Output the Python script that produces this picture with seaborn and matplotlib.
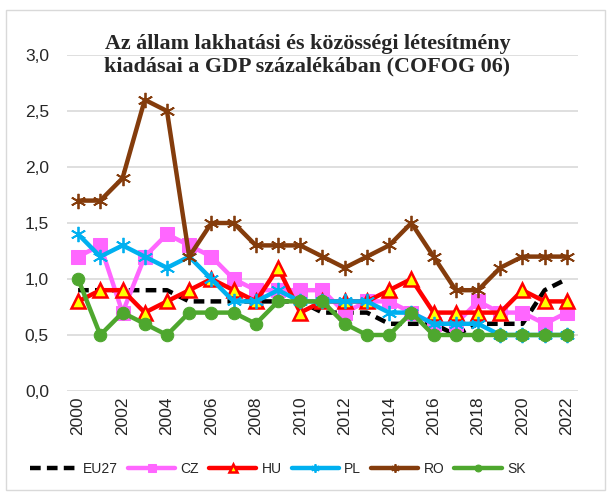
import pandas as pd
import matplotlib
matplotlib.use('Agg')
import matplotlib.pyplot as plt
import matplotlib.patches as mpatches
from matplotlib.ticker import FuncFormatter
import seaborn as sns

# 数据：COFOG 06，占 GDP 百分比
years = list(range(2000, 2023))
eu27 = [0.9, 0.9, 0.9, 0.9, 0.9, 0.8, 0.8, 0.8, 0.8, 0.8, 0.8, 0.7, 0.7,
        0.7, 0.6, 0.6, 0.6, 0.5, 0.6, 0.6, 0.6, 0.9, 1.0]
cz = [1.2, 1.3, 0.7, 1.2, 1.4, 1.3, 1.2, 1.0, 0.9, 0.9, 0.9, 0.9, 0.7,
      0.8, 0.8, 0.7, 0.6, 0.6, 0.8, 0.7, 0.7, 0.6, 0.7]
hu = [0.8, 0.9, 0.9, 0.7, 0.8, 0.9, 1.0, 0.9, 0.8, 1.1, 0.7, 0.8, 0.8,
      0.8, 0.9, 1.0, 0.7, 0.7, 0.7, 0.7, 0.9, 0.8, 0.8]
pl = [1.4, 1.2, 1.3, 1.2, 1.1, 1.2, 1.0, 0.8, 0.8, 0.9, 0.8, 0.8, 0.8,
      0.8, 0.7, 0.7, 0.6, 0.6, 0.6, 0.5, 0.5, 0.5, 0.5]
ro = [1.7, 1.7, 1.9, 2.6, 2.5, 1.2, 1.5, 1.5, 1.3, 1.3, 1.3, 1.2, 1.1,
      1.2, 1.3, 1.5, 1.2, 0.9, 0.9, 1.1, 1.2, 1.2, 1.2]
sk = [1.0, 0.5, 0.7, 0.6, 0.5, 0.7, 0.7, 0.7, 0.6, 0.8, 0.8, 0.8, 0.6,
      0.5, 0.5, 0.7, 0.5, 0.5, 0.5, 0.5, 0.5, 0.5, 0.5]

sns.set_style('white')
plt.rcParams['font.family'] = ['Liberation Sans', 'DejaVu Sans']

fig = plt.figure(figsize=(6.11, 4.93), dpi=100)
ax = fig.add_axes([67 / 611, 102 / 493, 511 / 611, 336 / 493])

star = (6, 2, 0)
styles = [
    ('EU27', eu27, dict(color='black', linestyle=(0, (2.4, 1.4)), marker=None)),
    ('CZ', cz, dict(color='#FF66FF', marker='s', markersize=9.5,
                    markerfacecolor='#FF66FF', markeredgecolor='#FF66FF')),
    ('HU', hu, dict(color='#FF0000', marker='^', markersize=10.5,
                    markerfacecolor='#FFFF00', markeredgecolor='#FF0000',
                    markeredgewidth=1.8)),
    ('PL', pl, dict(color='#00B0F0', marker=star, markersize=11,
                    markeredgecolor='#00B0F0', markeredgewidth=1.3)),
    ('RO', ro, dict(color='#843C0C', marker=star, markersize=11,
                    markeredgecolor='#843C0C', markeredgewidth=1.3)),
    ('SK', sk, dict(color='#4EA72E', marker='o', markersize=9,
                    markerfacecolor='#4EA72E', markeredgecolor='#4EA72E')),
]

for name, vals, kw in styles:
    sns.lineplot(x=years, y=vals, ax=ax, label=name, linewidth=3.2, **kw)

ax.set_xlim(1999.5, 2022.5)
ax.set_ylim(0, 3.0)
ax.set_yticks([0, 0.5, 1.0, 1.5, 2.0, 2.5, 3.0])
ax.yaxis.set_major_formatter(FuncFormatter(lambda v, p: f'{v:.1f}'.replace('.', ',')))
ax.set_xticks(list(range(2000, 2023, 2)))
ax.tick_params(axis='x', rotation=90, labelsize=12.5, pad=4, length=0)
ax.tick_params(axis='y', labelsize=12.5, pad=13, length=0)
ax.grid(axis='y', color='#D9D9D9', linewidth=1.2)
ax.grid(axis='x', visible=False)
for s in ax.spines.values():
    s.set_visible(False)
ax.set_xlabel('')
ax.set_ylabel('')

# 图例放在底部
handles, labels = ax.get_legend_handles_labels()
ax.legend_.remove()
fig.legend(handles, labels, loc='center', bbox_to_anchor=(0.455, 1 - 469 / 493),
           ncol=6, frameon=False, fontsize=10, handlelength=3.4,
           handletextpad=0.4, columnspacing=0.7, markerscale=0.55)

# 标题
fig.text(0.503, 1 - 55 / 493,
         'Az állam lakhatási és közösségi létesítmény\nkiadásai a GDP százalékában (COFOG 06)',
         ha='center', va='center', fontsize=15.8, fontweight='bold',
         family='Liberation Serif', linespacing=1.15)

# 图表外框
fig.patches.append(mpatches.Rectangle((6 / 611, 3 / 493), 599 / 611, 480 / 493,
                                      transform=fig.transFigure, fill=False,
                                      edgecolor='#D9D9D9', linewidth=1))

fig.savefig('out.png', dpi=100)
